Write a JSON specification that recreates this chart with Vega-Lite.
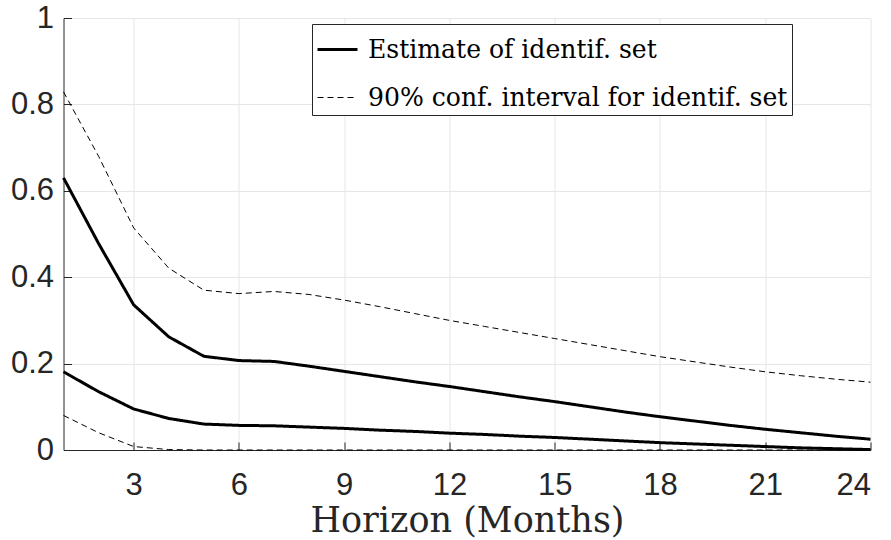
{
  "$schema": "https://vega.github.io/schema/vega-lite/v6.json",
  "width": 807,
  "height": 432,
  "autosize": "none",
  "padding": {"left": 63.5, "top": 18, "right": 20.5, "bottom": 90},
  "background": "white",
  "datasets": {
    "horizons": [
      {"h": 1, "est_hi": 0.630, "est_lo": 0.181, "ci_hi": 0.829, "ci_lo": 0.080},
      {"h": 2, "est_hi": 0.478, "est_lo": 0.135, "ci_hi": 0.680, "ci_lo": 0.040},
      {"h": 3, "est_hi": 0.336, "est_lo": 0.095, "ci_hi": 0.514, "ci_lo": 0.008},
      {"h": 4, "est_hi": 0.262, "est_lo": 0.073, "ci_hi": 0.421, "ci_lo": 0.001},
      {"h": 5, "est_hi": 0.217, "est_lo": 0.060, "ci_hi": 0.370, "ci_lo": 0},
      {"h": 6, "est_hi": 0.207, "est_lo": 0.057, "ci_hi": 0.362, "ci_lo": 0},
      {"h": 7, "est_hi": 0.205, "est_lo": 0.056, "ci_hi": 0.367, "ci_lo": 0},
      {"h": 8, "est_hi": 0.194, "est_lo": 0.053, "ci_hi": 0.360, "ci_lo": 0},
      {"h": 9, "est_hi": 0.182, "est_lo": 0.050, "ci_hi": 0.347, "ci_lo": 0},
      {"h": 10, "est_hi": 0.170, "est_lo": 0.046, "ci_hi": 0.332, "ci_lo": 0},
      {"h": 11, "est_hi": 0.158, "est_lo": 0.043, "ci_hi": 0.316, "ci_lo": 0},
      {"h": 12, "est_hi": 0.147, "est_lo": 0.039, "ci_hi": 0.300, "ci_lo": 0},
      {"h": 13, "est_hi": 0.135, "est_lo": 0.036, "ci_hi": 0.286, "ci_lo": 0},
      {"h": 14, "est_hi": 0.123, "est_lo": 0.032, "ci_hi": 0.272, "ci_lo": 0},
      {"h": 15, "est_hi": 0.112, "est_lo": 0.029, "ci_hi": 0.258, "ci_lo": 0},
      {"h": 16, "est_hi": 0.100, "est_lo": 0.025, "ci_hi": 0.244, "ci_lo": 0},
      {"h": 17, "est_hi": 0.088, "est_lo": 0.021, "ci_hi": 0.230, "ci_lo": 0},
      {"h": 18, "est_hi": 0.077, "est_lo": 0.017, "ci_hi": 0.216, "ci_lo": 0},
      {"h": 19, "est_hi": 0.067, "est_lo": 0.014, "ci_hi": 0.204, "ci_lo": 0},
      {"h": 20, "est_hi": 0.057, "est_lo": 0.011, "ci_hi": 0.192, "ci_lo": 0},
      {"h": 21, "est_hi": 0.048, "est_lo": 0.008, "ci_hi": 0.181, "ci_lo": 0},
      {"h": 22, "est_hi": 0.040, "est_lo": 0.005, "ci_hi": 0.172, "ci_lo": 0},
      {"h": 23, "est_hi": 0.032, "est_lo": 0.003, "ci_hi": 0.164, "ci_lo": 0},
      {"h": 24, "est_hi": 0.025, "est_lo": 0.001, "ci_hi": 0.157, "ci_lo": 0}
    ],
    "bands": [
      {"series": "est_hi", "band": "Estimate of identif. set"},
      {"series": "est_lo", "band": "Estimate of identif. set"},
      {"series": "ci_hi", "band": "90% conf. interval for identif. set"},
      {"series": "ci_lo", "band": "90% conf. interval for identif. set"}
    ]
  },
  "data": {"name": "horizons"},
  "transform": [
    {"fold": ["est_hi", "est_lo", "ci_hi", "ci_lo"], "as": ["series", "value"]},
    {"lookup": "series", "from": {"data": {"name": "bands"}, "key": "series", "fields": ["band"]}}
  ],
  "mark": {"type": "line", "color": "black", "strokeJoin": "round"},
  "encoding": {
    "x": {
      "field": "h",
      "type": "quantitative",
      "scale": {"domain": [1, 24], "nice": false, "zero": false},
      "axis": {
        "values": [3, 6, 9, 12, 15, 18, 21, 24],
        "labelPadding": 28,
        "title": "Horizon (Months)",
        "titleFont": "DejaVu Serif",
        "titleFontSize": 35,
        "titleFontWeight": "normal",
        "titleColor": "#262626",
        "titlePadding": 3
      }
    },
    "y": {
      "field": "value",
      "type": "quantitative",
      "scale": {"domain": [0, 1], "nice": false},
      "axis": {
        "values": [0, 0.2, 0.4, 0.6, 0.8, 1],
        "format": "~g",
        "labelPadding": 18,
        "title": null
      }
    },
    "detail": {"field": "series"},
    "strokeDash": {
      "field": "band",
      "type": "nominal",
      "scale": {
        "domain": ["Estimate of identif. set", "90% conf. interval for identif. set"],
        "range": [[1, 0], [6, 4]]
      },
      "legend": {
        "title": null,
        "orient": "none",
        "legendX": 248.5,
        "legendY": 6,
        "symbolType": "stroke",
        "symbolSize": 1600,
        "symbolStrokeColor": "black",
        "labelFont": "DejaVu Serif",
        "labelFontSize": 25.1,
        "labelColor": "black",
        "labelLimit": 0,
        "labelOffset": 9,
        "rowPadding": 14,
        "padding": 4,
        "strokeColor": "#262626",
        "fillColor": "white"
      }
    },
    "strokeWidth": {
      "field": "band",
      "type": "nominal",
      "scale": {
        "domain": ["Estimate of identif. set", "90% conf. interval for identif. set"],
        "range": [3, 1]
      }
    }
  },
  "config": {
    "view": {"stroke": null},
    "axis": {
      "labelFont": "Liberation Sans",
      "labelFontSize": 31,
      "labelColor": "#262626",
      "domainColor": "#262626",
      "domainWidth": 1,
      "tickColor": "#262626",
      "tickSize": -8,
      "tickWidth": 1,
      "gridColor": "#e6e6e6",
      "gridWidth": 1,
      "zindex": 1
    }
  }
}
